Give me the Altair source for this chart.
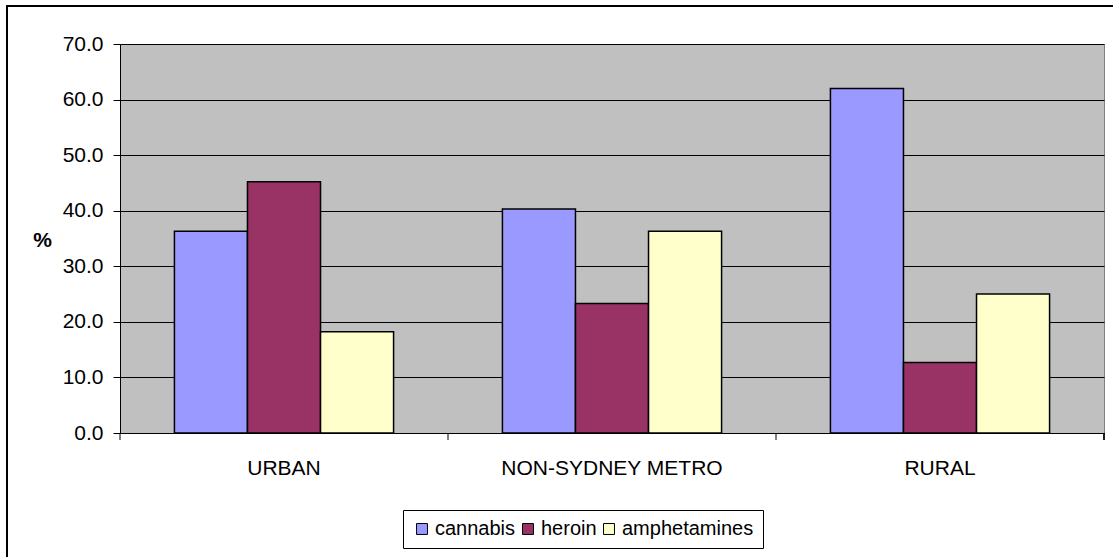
import altair as alt
import pandas as pd

regions = ["URBAN", "NON-SYDNEY METRO", "RURAL"]
series = ["cannabis", "heroin", "amphetamines"]
cannabis = [36.3, 40.3, 62.0]
heroin = [45.2, 23.3, 12.7]
amphetamines = [18.2, 36.3, 25.0]
colors = ["#9999FF", "#993366", "#FFFFCC"]
y_ticks = [0, 10, 20, 30, 40, 50, 60, 70]

rows = []
for i, r in enumerate(regions):
    for s, vals in zip(series, [cannabis, heroin, amphetamines]):
        rows.append({"region": r, "drug": s, "value": vals[i]})
df = pd.DataFrame(rows)
bounds = pd.DataFrame({"region": regions})

W, H = 984, 389
FONT = "Liberation Sans"
FS = 21

x_axis = alt.Axis(title=None, labelAngle=0, ticks=False, labelPadding=24,
                  labelFontSize=FS, labelFont=FONT, labelColor="black", labelLimit=0,
                  domainColor="black", domainWidth=1)
x_scale = alt.Scale(paddingInner=0, paddingOuter=0)

bars = alt.Chart(df).mark_bar(stroke="black", strokeWidth=1.5).encode(
    x=alt.X("region:N", sort=regions, scale=x_scale, axis=x_axis),
    xOffset=alt.XOffset("drug:N", sort=series,
                        scale=alt.Scale(paddingInner=0, paddingOuter=0.745)),
    y=alt.Y("value:Q",
            scale=alt.Scale(domain=[0, 70], nice=False),
            axis=alt.Axis(title="%", titleAngle=0, titleX=-78, titleY=196,
                          titleAlign="center", titleBaseline="middle",
                          titleFontSize=FS, titleFont=FONT, titleFontWeight="bold",
                          titleColor="black",
                          values=y_ticks, format=".1f", labelFontSize=FS,
                          labelFont=FONT, labelColor="black", labelPadding=10,
                          tickSize=7, tickColor="black", domainColor="black",
                          grid=True, gridColor="black", gridWidth=1)),
    fill=alt.Fill("drug:N", sort=series,
                  scale=alt.Scale(domain=series, range=colors),
                  legend=alt.Legend(title=None, orient="none", direction="horizontal",
                                    legendX=283, legendY=466,
                                    symbolType="square", symbolSize=120,
                                    symbolStrokeColor="black", symbolStrokeWidth=1,
                                    labelFontSize=20, labelFont=FONT, labelColor="black",
                                    columnPadding=2, labelOffset=3,
                                    strokeColor="black", padding=9,
                                    fillColor="white")),
)

ticks = alt.Chart(bounds).mark_rule(color="black", strokeWidth=1).encode(
    x=alt.X("region:N", sort=regions, bandPosition=0, scale=x_scale, axis=x_axis),
    y=alt.value(H), y2=alt.value(H + 7),
)
end_tick = alt.Chart(bounds).mark_rule(color="black", strokeWidth=1).encode(
    x=alt.value(W), y=alt.value(H), y2=alt.value(H + 7),
)
frame = alt.Chart(bounds).mark_rect(filled=False, stroke="black", strokeWidth=2).encode(
    x=alt.value(-113), x2=alt.value(W + 40), y=alt.value(-38), y2=alt.value(H + 160),
)

chart = alt.layer(bars, ticks, end_tick, frame).properties(
    width=W, height=H,
    autosize=alt.AutoSizeParams(type="none"),
    padding={"left": 120, "top": 44, "right": 9, "bottom": 124},
    background="white",
).configure_view(fill="#C0C0C0", stroke="#808080", strokeWidth=1)

chart.save("out.html", embed_options={"renderer": "svg", "actions": False})
